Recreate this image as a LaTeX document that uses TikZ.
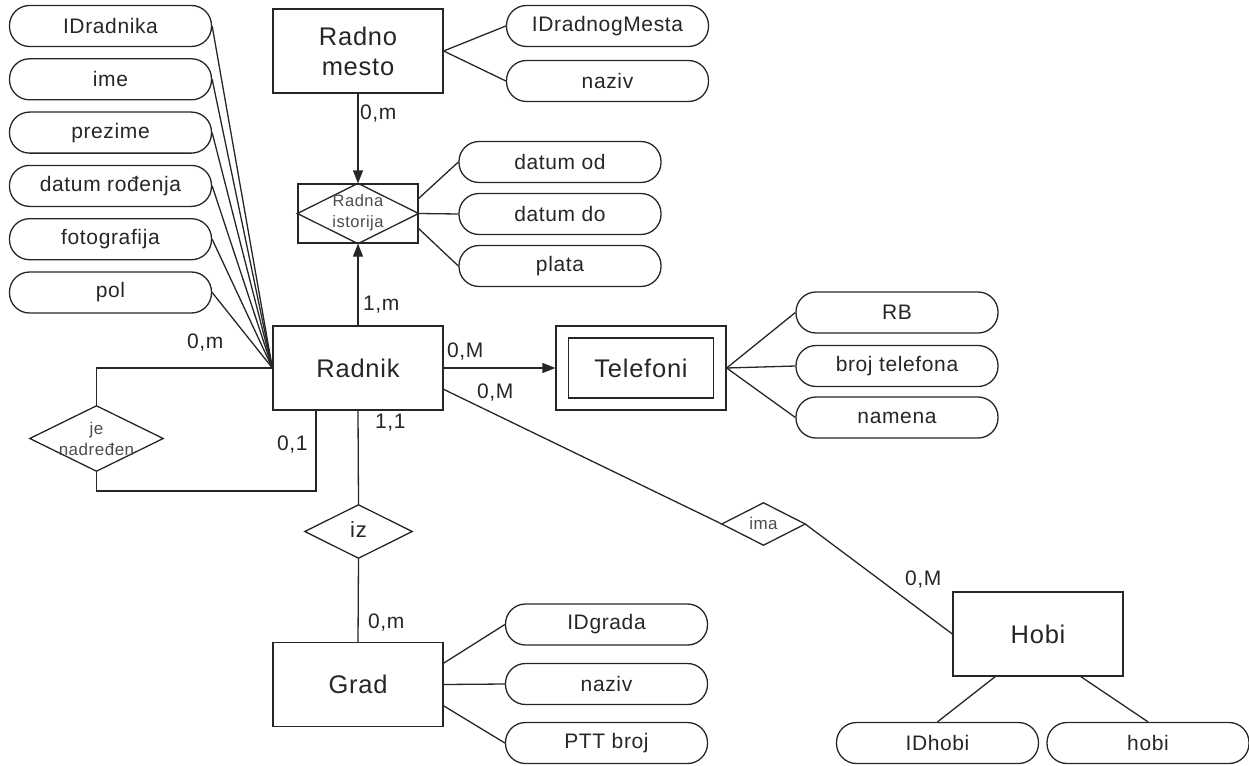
\documentclass[tikz,border=0pt]{standalone}
\usepackage{fontspec}
\setmainfont[LetterSpace=3]{Liberation Sans}
\usetikzlibrary{arrows.meta,calc}
\tikzset{
 ln/.style={draw=black!85, line width=1.3pt},
 ent/.style={draw=black!85, line width=1.3pt, minimum width=170pt, minimum height=84pt, inner sep=0pt, text=black!85, font=\fontsize{25.5}{30}\selectfont, align=center},
 attr/.style={draw=black!85, line width=1.3pt, rounded corners=20pt, minimum width=202pt, minimum height=41pt, inner sep=0pt, text=black!85, font=\fontsize{21}{24}\selectfont},
 reltext/.style={inner sep=0pt, text=black!70, font=\fontsize{17}{21}\selectfont, align=center},
 lbl/.style={inner sep=0pt, anchor=west, text=black!85, font=\fontsize{21}{24}\selectfont},
 arr/.style={ln, -{Triangle[length=13pt,width=10pt]}},
}
\begin{document}
\begin{tikzpicture}[x=1pt,y=-1pt]
\useasboundingbox (0,0) rectangle (1249,765);

% entities
\node[ent] (rm) at (358,51) {Radno\\mesto};
\node[ent] (radnik) at (358,368) {Radnik};
\node[ent] (tel) at (641,368) {};
\node[ent, minimum width=145pt, minimum height=60pt] (telin) at (641,368) {Telefoni};
\node[ent] (grad) at (358,684.5) {Grad};
\node[ent] (hobi) at (1038,634) {Hobi};

% Radna istorija (associative entity)
\node[ln, minimum width=120pt, minimum height=59pt, inner sep=0pt] (ri) at (358,213.5) {};
\draw[ln] (ri.west) -- (ri.north) -- (ri.east) -- (ri.south) -- cycle;
\node[reltext, font=\fontsize{16.5}{21}\selectfont] (ritext) at (358,212.5) {Radna\\istorija};

% relationship diamonds
\node[inner sep=0pt, minimum width=133pt, minimum height=65pt] (jn) at (96.5,438.5) {};
\draw[ln] (jn.west) -- (jn.north) -- (jn.east) -- (jn.south) -- cycle;
\node[reltext] (jntext) at (96.5,438.5) {je\\nadređen};

\node[inner sep=0pt, minimum width=83pt, minimum height=42pt] (ima) at (763.5,524) {};
\draw[ln] (ima.west) -- (ima.north) -- (ima.east) -- (ima.south) -- cycle;
\node[reltext] (imatext) at (763.5,523) {ima};

\node[inner sep=0pt, minimum width=107pt, minimum height=53pt] (iz) at (358.5,531.5) {};
\draw[ln] (iz.west) -- (iz.north) -- (iz.east) -- (iz.south) -- cycle;
\node[reltext, text=black!85, font=\fontsize{22}{24}\selectfont] (iztext) at (358.5,530) {iz};

% Radnik attributes
\node[attr] (a1) at (110.5,26) {IDradnika};
\node[attr] (a2) at (110.5,79.3) {ime};
\node[attr] (a3) at (110.5,132.6) {prezime};
\node[attr] (a4) at (110.5,185.9) {datum rođenja};
\node[attr] (a5) at (110.5,239.2) {fotografija};
\node[attr] (a6) at (110.5,292.5) {pol};
\foreach \a in {a1,a2,a3,a4,a5,a6} \draw[ln] (\a.east) -- (radnik.west);

% Radno mesto attributes
\node[attr] (rm1) at (607.5,26) {IDradnogMesta};
\node[attr] (rm2) at (607.5,81) {naziv};
\draw[ln] (rm.east) -- (rm1.west);
\draw[ln] (rm.east) -- (rm2.west);

% Radna istorija attributes
\node[attr] (ri1) at (560,162) {datum od};
\node[attr] (ri2) at (560,214) {datum do};
\node[attr] (ri3) at (560,266) {plata};
\draw[ln] ($(ri.east)!0.5!(ri.north east)$) -- (ri1.west);
\draw[ln] (ri.east) -- (ri2.west);
\draw[ln] ($(ri.east)!0.5!(ri.south east)$) -- (ri3.west);

% Telefoni attributes
\node[attr] (t1) at (897,312.5) {RB};
\node[attr] (t2) at (897,366) {broj telefona};
\node[attr] (t3) at (897,417.5) {namena};
\foreach \a in {t1,t2,t3} \draw[ln] (tel.east) -- (\a.west);

% Grad attributes
\node[attr] (g1) at (606.5,624.5) {IDgrada};
\node[attr] (g2) at (606.5,684) {naziv};
\node[attr] (g3) at (606.5,743) {PTT broj};
\draw[ln] ($(grad.east)!0.5!(grad.north east)$) -- (g1.west);
\draw[ln] (grad.east) -- (g2.west);
\draw[ln] ($(grad.east)!0.5!(grad.south east)$) -- (g3.west);

% Hobi attributes
\node[attr] (h1) at (937.5,743) {IDhobi};
\node[attr] (h2) at (1148,743) {hobi};
\draw[ln] ($(hobi.south west)!0.25!(hobi.south east)$) -- (h1.north);
\draw[ln] ($(hobi.south west)!0.75!(hobi.south east)$) -- (h2.north);

% relationship connectors
\draw[arr] (rm.south) -- (ri.north);
\draw[arr] (radnik.north) -- (ri.south);
\draw[arr] (radnik.east) -- (tel.west);
\draw[ln] ($(radnik.east)!0.5!(radnik.south east)$) -- (ima.west);
\draw[ln] (ima.east) -- (hobi.west);
\draw[ln] (radnik.south) -- (iz.north);
\draw[ln] (iz.south) -- (grad.north);
\draw[ln] (radnik.west) -| (jn.north);
\coordinate (jb) at (316,491);
\draw[ln] (jn.south) |- (jb) -- (jb |- radnik.south);

% cardinality labels
\node[lbl] (l1) at (360,114) {0,m};
\node[lbl] (l2) at (363,305) {1,m};
\node[lbl] (l3) at (447,352) {0,M};
\node[lbl] (l4) at (477,393) {0,M};
\node[lbl] (l5) at (187,343) {0,m};
\node[lbl] (l6) at (277,445) {0,1};
\node[lbl] (l7) at (375,423) {1,1};
\node[lbl] (l8) at (368,623) {0,m};
\node[lbl] (l9) at (905,580) {0,M};
\end{tikzpicture}
\end{document}
